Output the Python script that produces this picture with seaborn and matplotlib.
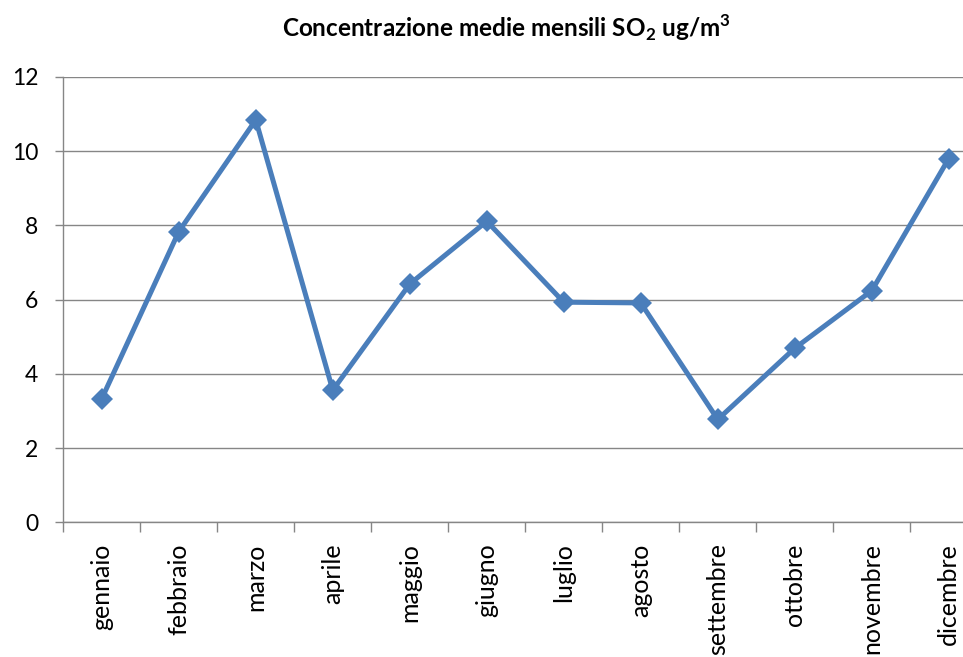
import numpy as np
import pandas as pd
import matplotlib
matplotlib.use("Agg")
import matplotlib.pyplot as plt
from matplotlib.ticker import FixedLocator
import seaborn as sns

months = ["gennaio", "febbraio", "marzo", "aprile", "maggio", "giugno",
          "luglio", "agosto", "settembre", "ottobre", "novembre", "dicembre"]
so2 = [3.33, 7.83, 10.84, 3.56, 6.42, 8.11, 5.93, 5.91, 2.77, 4.69, 6.24, 9.80]
yticks = [0, 2, 4, 6, 8, 10, 12]

sns.set_theme(style="white")
plt.rcParams["font.family"] = ["Lato", "DejaVu Sans"]
plt.rcParams["mathtext.fontset"] = "custom"
plt.rcParams["mathtext.rm"] = "Lato"
plt.rcParams["mathtext.bf"] = "Lato:bold"

df = pd.DataFrame({"mese": months, "valore": so2})

fig = plt.figure(figsize=(9.63, 6.57), dpi=100)
# plot area extends slightly beyond the right edge of the image, as in the reference
ax = fig.add_axes([0.0657, 0.205, 0.9595, 0.678])

grid_c = "#868686"
line_c = "#4A7EBB"

sns.lineplot(data=df, x="mese", y="valore", sort=False, ax=ax, color=line_c,
             linewidth=3.6, marker="D", markersize=11, markeredgewidth=0,
             markerfacecolor=line_c, zorder=3)

ax.set_xlim(-0.5, len(months) - 0.5)
ax.set_ylim(0, 12)
ax.set_yticks(yticks)
ax.set_yticklabels([str(v) for v in yticks])
ax.yaxis.grid(True, color=grid_c, linewidth=1.0)
ax.xaxis.grid(False)
ax.set_axisbelow(True)

ax.set_xticks(range(len(months)))
ax.set_xticklabels(months, rotation=90)
ax.xaxis.set_minor_locator(FixedLocator(np.arange(-0.5, len(months), 1.0)))
ax.tick_params(axis="x", which="major", length=0, pad=15, labelsize=18, colors="#000000")
ax.tick_params(axis="x", which="minor", length=7, width=1.0, color=grid_c, bottom=True, direction="out")
ax.tick_params(axis="y", which="major", length=6, width=1.0, color=grid_c, left=True,
               direction="out", labelsize=16.5, pad=12, labelcolor="#000000")

for s in ["top", "right"]:
    ax.spines[s].set_visible(False)
for s in ["left", "bottom"]:
    ax.spines[s].set_color(grid_c)
    ax.spines[s].set_linewidth(1.0)

ax.set_xlabel("")
ax.set_ylabel("")

fig.text(0.526, 0.958, r"Concentrazione medie mensili SO$_\mathbf{2}$ ug/m$^\mathbf{3}$",
         ha="center", va="center", fontsize=17.5, fontweight="bold", color="#000000")

fig.savefig("out.png", dpi=100, facecolor="white")
